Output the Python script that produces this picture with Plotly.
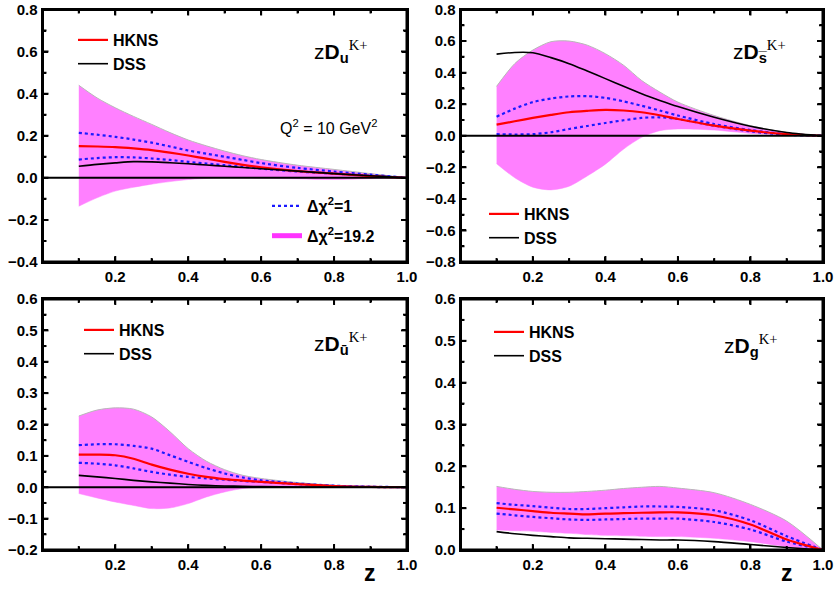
import plotly.graph_objects as go

# ---------------- data ----------------
Z = [0.1, 0.15, 0.2, 0.25, 0.3, 0.35, 0.4, 0.45, 0.5, 0.55, 0.6, 0.7, 0.8, 0.9, 1.0]

# zD_u^{K+}
u_band_up = [0.44, 0.38, 0.333, 0.292, 0.254, 0.215, 0.18, 0.152, 0.127, 0.105, 0.087, 0.06, 0.04, 0.02, 0.0]
u_band_lo = [-0.135, -0.095, -0.063, -0.045, -0.03, -0.018, -0.008, -0.003, 0.0, -0.001, -0.002, -0.005, -0.008, -0.004, 0.0]
u_hkns = [0.151, 0.149, 0.146, 0.14, 0.132, 0.12, 0.106, 0.091, 0.076, 0.062, 0.05, 0.032, 0.02, 0.008, 0.0]
u_d1_up = [0.214, 0.205, 0.195, 0.182, 0.167, 0.149, 0.13, 0.115, 0.1, 0.085, 0.07, 0.047, 0.03, 0.015, 0.0]
u_d1_lo = [0.087, 0.094, 0.098, 0.097, 0.092, 0.085, 0.076, 0.068, 0.06, 0.052, 0.044, 0.03, 0.02, 0.01, 0.0]
u_dss = [0.055, 0.064, 0.071, 0.077, 0.076, 0.072, 0.067, 0.061, 0.055, 0.049, 0.043, 0.032, 0.02, 0.01, 0.0]

# zD_sbar^{K+}
s_band_up = [0.313, 0.457, 0.543, 0.596, 0.60, 0.574, 0.52, 0.447, 0.35, 0.277, 0.213, 0.128, 0.064, 0.021, 0.0]
s_band_lo = [-0.177, -0.266, -0.326, -0.343, -0.32, -0.255, -0.18, -0.085, -0.01, 0.032, 0.043, 0.036, 0.015, 0.004, 0.0]
s_hkns = [0.07, 0.092, 0.113, 0.132, 0.149, 0.158, 0.164, 0.16, 0.149, 0.13, 0.106, 0.064, 0.032, 0.01, 0.0]
s_d1_up = [0.121, 0.172, 0.213, 0.236, 0.249, 0.251, 0.24, 0.218, 0.19, 0.16, 0.128, 0.074, 0.036, 0.01, 0.0]
s_d1_lo = [0.01, 0.008, 0.01, 0.022, 0.043, 0.062, 0.081, 0.098, 0.113, 0.117, 0.106, 0.064, 0.028, 0.006, 0.0]
s_dss = [0.517, 0.528, 0.526, 0.495, 0.457, 0.41, 0.362, 0.313, 0.266, 0.224, 0.185, 0.117, 0.06, 0.021, 0.0]

# zD_ubar^{K+}
ub_band_up = [0.227, 0.246, 0.253, 0.249, 0.224, 0.177, 0.123, 0.083, 0.056, 0.038, 0.028, 0.015, 0.006, 0.002, 0.0]
ub_band_lo = [-0.02, -0.034, -0.047, -0.058, -0.068, -0.066, -0.052, -0.031, -0.015, -0.004, -0.001, 0.0, 0.0, 0.0, 0.0]
ub_hkns = [0.104, 0.104, 0.102, 0.091, 0.072, 0.056, 0.043, 0.033, 0.026, 0.021, 0.017, 0.01, 0.004, 0.001, 0.0]
ub_d1_up = [0.134, 0.137, 0.137, 0.132, 0.123, 0.102, 0.081, 0.061, 0.044, 0.031, 0.022, 0.012, 0.005, 0.002, 0.0]
ub_d1_lo = [0.078, 0.075, 0.07, 0.06, 0.049, 0.04, 0.033, 0.028, 0.024, 0.02, 0.017, 0.01, 0.004, 0.001, 0.0]
ub_dss = [0.038, 0.033, 0.028, 0.022, 0.017, 0.013, 0.009, 0.006, 0.004, 0.003, 0.002, 0.001, 0.0, 0.0, 0.0]

# zD_g^{K+}
g_band_up = [0.152, 0.145, 0.14, 0.138, 0.138, 0.14, 0.143, 0.147, 0.15, 0.152, 0.148, 0.137, 0.109, 0.069, 0.0]
g_band_lo = [0.048, 0.046, 0.045, 0.042, 0.04, 0.037, 0.035, 0.034, 0.033, 0.032, 0.032, 0.028, 0.02, 0.008, 0.0]
g_hkns = [0.101, 0.097, 0.093, 0.089, 0.087, 0.085, 0.087, 0.088, 0.089, 0.09, 0.09, 0.083, 0.061, 0.025, 0.0]
g_d1_up = [0.112, 0.108, 0.105, 0.101, 0.098, 0.098, 0.1, 0.102, 0.104, 0.104, 0.103, 0.095, 0.071, 0.033, 0.0]
g_d1_lo = [0.087, 0.083, 0.079, 0.076, 0.073, 0.072, 0.073, 0.074, 0.075, 0.075, 0.075, 0.067, 0.049, 0.02, 0.0]
g_dss = [0.044, 0.039, 0.035, 0.032, 0.029, 0.028, 0.027, 0.026, 0.025, 0.024, 0.024, 0.02, 0.013, 0.006, 0.0]

# axis ranges and tick steps: (range, major step, minor step)
X_SPEC = ([0.0005, 1.0], 0.2, 0.1)
Y_TOPL = ([-0.4, 0.8], 0.2, 0.1)
Y_TOPR = ([-0.8, 0.8], 0.2, 0.1)
Y_BOTL = ([-0.2, 0.6], 0.1, 0.05)
Y_BOTR = ([0.0, 0.6], 0.1, 0.05)

# ---------------- styling ----------------
W, H = 835, 589
FONT = "Arial, Liberation Sans, sans-serif"
SERIF = "Times New Roman, Liberation Serif, serif"
PINK = "#ff80ff"
EDGE = "#b8b8b8"

def px(x):
    return x / W

def py(y):
    return 1 - y / H

fig = go.Figure()

panels = [
    dict(ax="", band=(u_band_lo, u_band_up), hk=u_hkns, d1=(u_d1_lo, u_d1_up), dss=u_dss, leg="legend"),
    dict(ax="2", band=(s_band_lo, s_band_up), hk=s_hkns, d1=(s_d1_lo, s_d1_up), dss=s_dss, leg="legend3"),
    dict(ax="3", band=(ub_band_lo, ub_band_up), hk=ub_hkns, d1=(ub_d1_lo, ub_d1_up), dss=ub_dss, leg="legend4"),
    dict(ax="4", band=(g_band_lo, g_band_up), hk=g_hkns, d1=(g_d1_lo, g_d1_up), dss=g_dss, leg="legend5"),
]

for i, p in enumerate(panels):
    xa, ya = "x" + p["ax"], "y" + p["ax"]
    lo, up = p["band"]
    fig.add_trace(go.Scatter(x=Z, y=lo, mode="lines", line=dict(width=0.5, color=PINK, shape="spline", smoothing=0.8),
                             xaxis=xa, yaxis=ya, showlegend=False, legend=p["leg"]))
    fig.add_trace(go.Scatter(x=Z, y=up, mode="lines", fill="tonexty", fillcolor=PINK,
                             line=dict(width=1, color=EDGE, shape="spline", smoothing=0.8),
                             xaxis=xa, yaxis=ya, showlegend=False, legend=p["leg"]))
    d_lo, d_up = p["d1"]
    for k, dy in enumerate((d_up, d_lo)):
        fig.add_trace(go.Scatter(x=Z, y=dy, mode="lines",
                                 line=dict(width=2.2, color="#1a1aff", dash="dot", shape="spline", smoothing=0.8),
                                 xaxis=xa, yaxis=ya, name="Δχ<sup>2</sup>=1",
                                 showlegend=(i == 0 and k == 0), legend="legend2", legendgroup="a"))
    fig.add_trace(go.Scatter(x=Z, y=p["hk"], mode="lines", name="HKNS",
                             line=dict(width=2.2, color="#ff0000", shape="spline", smoothing=0.8),
                             xaxis=xa, yaxis=ya, legend=p["leg"]))
    fig.add_trace(go.Scatter(x=Z, y=p["dss"], mode="lines", name="DSS",
                             line=dict(width=1.6, color="black", shape="spline", smoothing=0.8),
                             xaxis=xa, yaxis=ya, legend=p["leg"]))

# legend entry for the 19.2 band
fig.add_trace(go.Scatter(x=[None], y=[None], mode="lines", name="Δχ<sup>2</sup>=19.2",
                         line=dict(width=5, color="#ff33ff"), legend="legend2", legendgroup="b"))

tickfont = dict(family=FONT, size=15, color="black", weight="bold")
common = dict(ticks="inside", ticklen=5, tickwidth=2, tickcolor="black", mirror="ticks",
              showline=True, linecolor="black", linewidth=2, showgrid=False, zeroline=False,
              tickfont=tickfont, automargin=False, tickformat=".1f")

def axis(domain, anchor, spec):
    rng, step, mstep = spec
    return dict(domain=domain, anchor=anchor, range=rng, dtick=step,
                minor=dict(ticks="inside", dtick=mstep), **common)

XL = [px(42.5), px(407)]
XR = [px(460.5), px(823)]
YT = [py(262), py(9.5)]
YB = [py(550), py(299)]

leg_font = dict(family=FONT, size=16, color="black", weight="bold")

def legend(x, ytop, gap=0, order="normal"):
    return dict(x=px(x), y=py(ytop), xanchor="left", yanchor="top",
                font=leg_font, tracegroupgap=gap, traceorder=order)

fig.update_layout(
    template="none",
    width=W, height=H, margin=dict(l=0, r=0, t=0, b=0, autoexpand=False),
    xaxis=axis(XL, "y", X_SPEC), yaxis=axis(YT, "x", Y_TOPL),
    xaxis2=axis(XR, "y2", X_SPEC), yaxis2=axis(YT, "x2", Y_TOPR),
    xaxis3=axis(XL, "y3", X_SPEC), yaxis3=axis(YB, "x3", Y_BOTL),
    xaxis4=axis(XR, "y4", X_SPEC), yaxis4=axis(YB, "x4", Y_BOTR),
    legend=legend(73, 23),
    legend2=legend(267, 189, gap=6, order="grouped"),
    legend3=legend(484, 197),
    legend4=legend(79, 313),
    legend5=legend(489, 315),
    showlegend=True,
)

# frame, inside ticks (major + minor, mirrored) and zero lines, derived from the axis specs
def tick_values(spec):
    rng, step, mstep = spec
    lo, hi = rng
    n = int(round((hi - lo) / mstep)) + 2
    start = round(lo / mstep)
    major, minor = [], []
    for k in range(int(start) - 1, int(start) + n):
        v = round(k * mstep, 4)
        if lo + 1e-6 < v < hi - 1e-6:
            if abs(v / step - round(v / step)) < 1e-6:
                major.append(v)
            else:
                minor.append(v)
    return major, minor

shapes = []
TICK = dict(color="black", width=2)
panel_geo = [("", Y_TOPL, XL, YT), ("2", Y_TOPR, XR, YT), ("3", Y_BOTL, XL, YB), ("4", Y_BOTR, XR, YB)]
for a, yspec, xd, yd in panel_geo:
    wpx = (xd[1] - xd[0]) * W
    hpx = (yd[1] - yd[0]) * H
    shapes.append(dict(type="rect", xref="x" + a + " domain", yref="y" + a + " domain", x0=0, x1=1, y0=0, y1=1,
                       line=dict(color="black", width=3), layer="above"))
    xmaj, xmin = tick_values(X_SPEC)
    for vals, L in ((xmaj, 6), (xmin, 4)):
        for v in vals:
            for y0, y1 in ((0, L / hpx), (1, 1 - L / hpx)):
                shapes.append(dict(type="line", xref="x" + a, yref="y" + a + " domain", x0=v, x1=v, y0=y0, y1=y1,
                                   line=TICK, layer="above"))
    ymaj, ymin = tick_values(yspec)
    for vals, L in ((ymaj, 6), (ymin, 4)):
        for v in vals:
            for x0, x1 in ((0, L / wpx), (1, 1 - L / wpx)):
                shapes.append(dict(type="line", xref="x" + a + " domain", yref="y" + a, x0=x0, x1=x1, y0=v, y1=v,
                                   line=TICK, layer="above"))
    if a != "4":
        shapes.append(dict(type="line", xref="x" + a + " domain", yref="y" + a, x0=0, x1=1, y0=0, y1=0,
                           line=dict(color="black", width=2), layer="above"))
fig.update_layout(shapes=shapes)

def title(sub, x, y):
    return dict(text="z<b>D<sub>" + sub + "</sub></b><sup><span style='font-family:" + SERIF + "'>K+</span></sup>",
                xref="paper", yref="paper", x=px(x), y=py(y), xanchor="left", yanchor="middle",
                showarrow=False, font=dict(family=FONT, size=21, color="black"))

annotations = [
    title("u", 312, 52),
    title("s\u0305", 731, 52),
    title("\u016b", 312, 343),
    title("g", 722, 345),
    dict(text="Q<sup>2</sup> = 10 GeV<sup>2</sup>", xref="paper", yref="paper", x=px(278), y=py(127),
         xanchor="left", yanchor="middle", showarrow=False, font=dict(family=FONT, size=16, color="black")),
    dict(text="<b>z</b>", xref="paper", yref="paper", x=px(370), y=py(588), xanchor="center", yanchor="bottom",
         showarrow=False, font=dict(family=FONT, size=23, color="black")),
    dict(text="<b>z</b>", xref="paper", yref="paper", x=px(787), y=py(588), xanchor="center", yanchor="bottom",
         showarrow=False, font=dict(family=FONT, size=23, color="black")),
]
fig.update_layout(annotations=annotations)

fig.write_html("out.html", config={"displayModeBar": False},
               post_script="document.body.style.margin='0';")
